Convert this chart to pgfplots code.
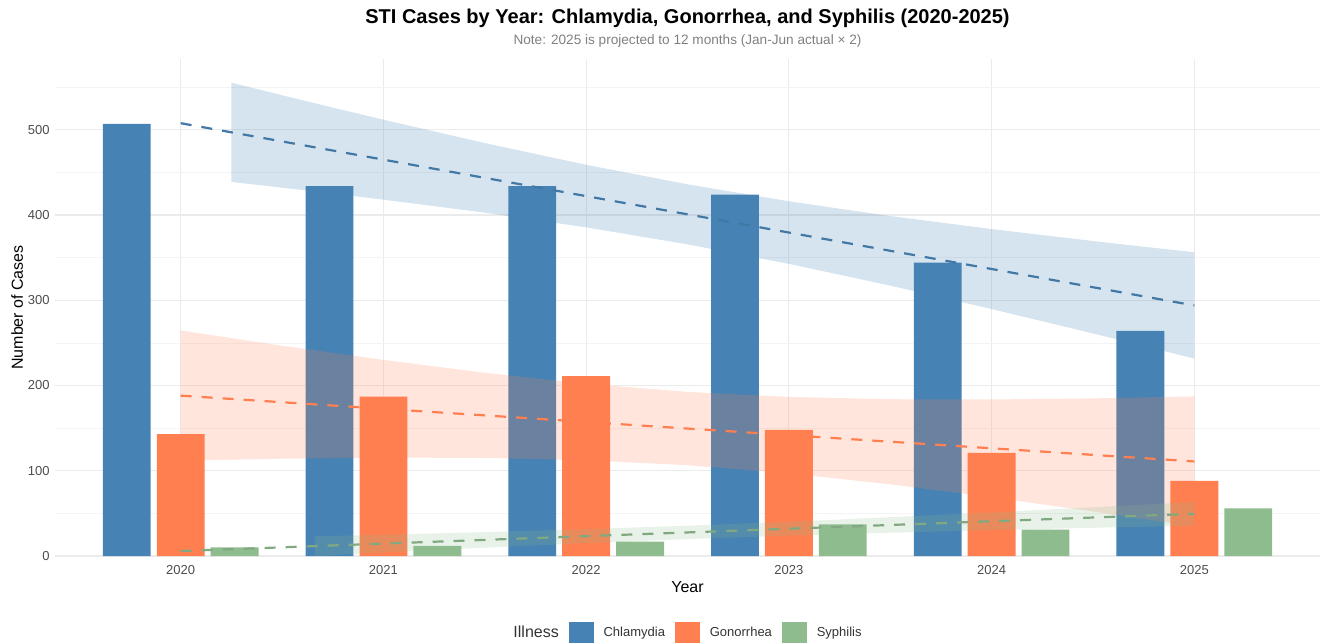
\documentclass[border=0pt]{standalone}
\usepackage{fontspec}
\setmainfont{Liberation Sans}
\usepackage{pgfplots}
\pgfplotsset{compat=1.18}
\usepackage{pgfplotstable}

\definecolor{cchl}{HTML}{4682B4}
\definecolor{cgon}{HTML}{FF7F50}
\definecolor{csyp}{HTML}{8FBC8F}
\definecolor{gridc}{HTML}{EBEBEB}

% cases per year (2025 projected)
\pgfplotstableread{
year chl gon syp
2020 507 143 10
2021 434 187 12
2022 434 211 17
2023 424 148 37
2024 344 121 31
2025 264 88 56
}\stidata

\begin{document}
\begin{tikzpicture}
\begin{axis}[
    width=632.5pt, height=248.5pt, scale only axis,
    xmin=2019.38, xmax=2025.62, ymin=0, ymax=583,
    clip mode=individual,
    axis line style={draw=none}, tick style={draw=none},
    xtick={2020,2021,2022,2023,2024,2025},
    ytick={0,100,200,300,400,500},
    minor ytick={50,150,250,350,450,550},
    xmajorgrids, ymajorgrids, yminorgrids,
    major grid style={gridc, line width=0.6pt},
    minor grid style={gridc!55, line width=0.35pt},
    /pgf/number format/1000 sep={},
    /pgf/number format/assume math mode=true,
    ticklabel style={font=\fontsize{6.5}{7.8}\selectfont, text=black!70},
    xticklabel style={anchor=center, yshift=-7pt},
    yticklabel style={anchor=east, inner sep=0pt, xshift=-2.5pt},
    xlabel={Year}, ylabel={Number of Cases},
    label style={font=\fontsize{8}{9.6}\selectfont},
    xlabel style={at={(axis description cs:0.5,-0.0624)}, anchor=center},
    ylabel style={at={(axis description cs:-0.0300,0.5)}, anchor=center},
    legend columns=-1,
    legend style={at={(axis description cs:0.5,-0.1549)}, anchor=center,
        draw=none, fill=none, inner sep=0pt, column sep=0pt,
        font=\fontsize{6.5}{7.8}\selectfont, text=black!80,
        nodes={inner xsep=5pt, inner ysep=0pt}},
]
% bars
\addplot[ybar, bar width=0.236, bar shift=-0.266, fill=cchl, draw=none, forget plot]
    table[x=year, y=chl] {\stidata};
\addplot[ybar, bar width=0.236, bar shift=0, fill=cgon, draw=none, forget plot]
    table[x=year, y=gon] {\stidata};
\addplot[ybar, bar width=0.236, bar shift=0.266, fill=csyp, draw=none, forget plot]
    table[x=year, y=syp] {\stidata};

% confidence bands of the linear trends
\addplot[fill=cchl, fill opacity=0.22, draw=none, forget plot] coordinates {
    (2020.25,555.2) (2020.5,540.5) (2020.75,526.0) (2021,511.8) (2021.5,484.4)
    (2022,458.9) (2022.5,436.0) (2023,416.1) (2023.5,398.8) (2024,383.5)
    (2024.5,369.5) (2024.75,362.8) (2025,356.3)
    (2025,231.5) (2024.75,246.4) (2024.5,261.1) (2024,289.7) (2023.5,317.2)
    (2023,342.7) (2022.5,365.6) (2022,385.5) (2021.5,402.8) (2021,418.0)
    (2020.75,425.2) (2020.5,432.1) (2020.25,438.8)} -- cycle;
\addplot[fill=cgon, fill opacity=0.2, draw=none, forget plot] coordinates {
    (2020,264.5) (2020.5,246.7) (2021,230.0) (2021.5,214.9) (2022,202.0)
    (2022.5,192.5) (2023,186.6) (2023.5,183.9) (2024,183.6) (2024.5,184.9)
    (2025,187.2)
    (2025,34.6) (2024.5,52.3) (2024,69.0) (2023.5,84.1) (2023,97.0)
    (2022.5,106.5) (2022,112.4) (2021.5,115.1) (2021,115.4) (2020.5,114.1)
    (2020,111.9)} -- cycle;
\addplot[fill=csyp, fill opacity=0.2, draw=none, forget plot] coordinates {
    (2020.66,23.1) (2020.75,23.6) (2021,25.0) (2021.5,28.0) (2022,31.5)
    (2022.5,35.5) (2023,40.2) (2023.5,45.5) (2024,51.2) (2024.5,57.2)
    (2025,63.4)
    (2025,35.6) (2024.5,33.1) (2024,30.3) (2023.5,27.3) (2023,23.9)
    (2022.5,19.8) (2022,15.1) (2021.5,9.8) (2021,4.1) (2020.75,1.1)
    (2020.66,0)} -- cycle;

% trend lines
\addplot[cchl!92!black, line width=1.1pt, dash pattern=on 5.5pt off 5pt, forget plot]
    coordinates {(2020,507.7) (2025,293.9)};
\addplot[cgon, line width=1.1pt, dash pattern=on 5.5pt off 5pt, forget plot]
    coordinates {(2020,188.1) (2025,110.9)};
\addplot[csyp!90!black, line width=1.1pt, dash pattern=on 5.5pt off 5pt, forget plot]
    coordinates {(2020,5.8) (2025,49.5)};

% legend
\addlegendimage{empty legend}
\addlegendentry{\fontsize{8}{9.6}\selectfont Illness}
\addlegendimage{legend image code/.code={\fill[cchl] (0pt,-5.5pt) rectangle (12pt,5.5pt);}}
\addlegendentry{Chlamydia}
\addlegendimage{legend image code/.code={\fill[cgon] (0pt,-5.5pt) rectangle (12pt,5.5pt);}}
\addlegendentry{Gonorrhea}
\addlegendimage{legend image code/.code={\fill[csyp] (0pt,-5.5pt) rectangle (12pt,5.5pt);}}
\addlegendentry{Syphilis}

% titles
\node[font=\bfseries\fontsize{10}{12}\selectfont] at (axis description cs:0.5,1.0825)
    {STI Cases by Year: Chlamydia, Gonorrhea, and Syphilis (2020-2025)};
\node[font=\fontsize{6.8}{8}\selectfont, text=black!50] at (axis description cs:0.5,1.036)
    {Note: 2025 is projected to 12 months (Jan-Jun actual × 2)};

\coordinate (bl) at (axis description cs:-0.04348,-0.17505);
\coordinate (tr) at (axis description cs:1.00395,1.11871);
\end{axis}
\pgfresetboundingbox
\path[use as bounding box] (bl) rectangle (tr);
\end{tikzpicture}
\end{document}
